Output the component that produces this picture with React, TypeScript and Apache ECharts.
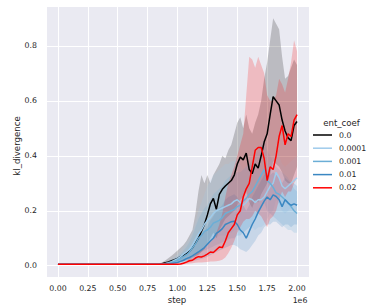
import React, { useEffect, useRef } from "react";
import * as echarts from "echarts";

// step values in millions (axis shows ×1e6)
const stepsM = [0, 0.25, 0.5, 0.75, 0.8, 0.825, 0.85, 0.875, 0.9, 0.925, 0.95, 0.975, 1.0, 1.025, 1.05, 1.075, 1.1, 1.125, 1.15, 1.175, 1.2, 1.225, 1.25, 1.275, 1.3, 1.325, 1.35, 1.375, 1.4, 1.425, 1.45, 1.475, 1.5, 1.525, 1.55, 1.575, 1.6, 1.625, 1.65, 1.675, 1.7, 1.725, 1.75, 1.775, 1.8, 1.825, 1.85, 1.875, 1.9, 1.925, 1.95, 1.975, 2.0];

const categories = ["0.0", "0.0001", "0.001", "0.01", "0.02"];
const colors = ["#000000", "#9fcbeb", "#6baed6", "#3a87c2", "#ff0000"];

// ent_coef 0.0
const mean0 = [0.005, 0.005, 0.005, 0.005, 0.005, 0.005, 0.006, 0.008, 0.011, 0.014, 0.018, 0.022, 0.027, 0.033, 0.038, 0.045, 0.052, 0.065, 0.082, 0.1, 0.125, 0.15, 0.185, 0.225, 0.245, 0.205, 0.26, 0.278, 0.29, 0.3, 0.31, 0.33, 0.37, 0.395, 0.385, 0.41, 0.35, 0.335, 0.37, 0.355, 0.4, 0.45, 0.48, 0.55, 0.615, 0.6, 0.585, 0.53, 0.49, 0.465, 0.455, 0.51, 0.525];
const hi0 = [0.006, 0.006, 0.006, 0.006, 0.006, 0.006, 0.009, 0.013, 0.02, 0.028, 0.036, 0.045, 0.055, 0.065, 0.075, 0.09, 0.11, 0.13, 0.19, 0.27, 0.33, 0.3, 0.33, 0.3, 0.33, 0.35, 0.37, 0.4, 0.39, 0.42, 0.44, 0.48, 0.52, 0.54, 0.5, 0.55, 0.5, 0.48, 0.52, 0.55, 0.6, 0.68, 0.74, 0.82, 0.9, 0.88, 0.86, 0.76, 0.68, 0.69, 0.72, 0.75, 0.73];
const lo0 = [0.004, 0.004, 0.004, 0.004, 0.004, 0.004, 0.004, 0.005, 0.006, 0.007, 0.008, 0.01, 0.012, 0.014, 0.016, 0.02, 0.024, 0.03, 0.035, 0.04, 0.05, 0.06, 0.08, 0.1, 0.12, 0.1, 0.13, 0.15, 0.17, 0.18, 0.19, 0.2, 0.22, 0.24, 0.25, 0.27, 0.23, 0.21, 0.24, 0.23, 0.26, 0.28, 0.3, 0.33, 0.38, 0.37, 0.36, 0.34, 0.31, 0.3, 0.3, 0.33, 0.36];

// ent_coef 0.0001
const mean1 = [0.005, 0.005, 0.005, 0.005, 0.005, 0.005, 0.005, 0.005, 0.008, 0.011, 0.015, 0.02, 0.026, 0.033, 0.042, 0.05, 0.06, 0.075, 0.095, 0.115, 0.13, 0.15, 0.165, 0.175, 0.19, 0.2, 0.205, 0.21, 0.215, 0.22, 0.225, 0.235, 0.24, 0.23, 0.22, 0.23, 0.245, 0.24, 0.23, 0.24, 0.24, 0.25, 0.27, 0.29, 0.3, 0.34, 0.32, 0.29, 0.28, 0.29, 0.3, 0.31, 0.32];
const hi1 = [0.006, 0.006, 0.006, 0.006, 0.006, 0.006, 0.006, 0.006, 0.012, 0.018, 0.025, 0.033, 0.042, 0.055, 0.07, 0.085, 0.1, 0.125, 0.16, 0.2, 0.23, 0.26, 0.29, 0.31, 0.33, 0.34, 0.35, 0.36, 0.37, 0.37, 0.38, 0.38, 0.39, 0.37, 0.35, 0.36, 0.37, 0.36, 0.34, 0.35, 0.34, 0.35, 0.37, 0.38, 0.39, 0.42, 0.4, 0.37, 0.36, 0.37, 0.38, 0.39, 0.4];
const lo1 = [0.004, 0.004, 0.004, 0.004, 0.004, 0.004, 0.004, 0.004, 0.005, 0.006, 0.008, 0.01, 0.012, 0.015, 0.018, 0.022, 0.027, 0.033, 0.04, 0.05, 0.06, 0.07, 0.08, 0.09, 0.1, 0.1, 0.11, 0.11, 0.11, 0.12, 0.12, 0.13, 0.13, 0.13, 0.12, 0.13, 0.14, 0.14, 0.13, 0.14, 0.14, 0.15, 0.17, 0.19, 0.2, 0.24, 0.22, 0.2, 0.19, 0.2, 0.21, 0.22, 0.23];

// ent_coef 0.001
const mean2 = [0.005, 0.005, 0.005, 0.005, 0.005, 0.005, 0.005, 0.005, 0.007, 0.009, 0.012, 0.016, 0.02, 0.026, 0.033, 0.04, 0.05, 0.065, 0.08, 0.1, 0.11, 0.125, 0.13, 0.14, 0.155, 0.16, 0.165, 0.175, 0.19, 0.195, 0.2, 0.205, 0.215, 0.22, 0.235, 0.245, 0.26, 0.27, 0.29, 0.31, 0.33, 0.35, 0.31, 0.3, 0.285, 0.265, 0.26, 0.25, 0.24, 0.23, 0.215, 0.2, 0.19];
const hi2 = [0.006, 0.006, 0.006, 0.006, 0.006, 0.006, 0.006, 0.006, 0.01, 0.014, 0.019, 0.026, 0.033, 0.043, 0.055, 0.068, 0.085, 0.11, 0.14, 0.17, 0.19, 0.21, 0.22, 0.24, 0.26, 0.27, 0.28, 0.29, 0.31, 0.32, 0.33, 0.33, 0.34, 0.34, 0.35, 0.36, 0.37, 0.38, 0.4, 0.42, 0.44, 0.46, 0.42, 0.4, 0.38, 0.36, 0.35, 0.34, 0.33, 0.32, 0.3, 0.28, 0.27];
const lo2 = [0.004, 0.004, 0.004, 0.004, 0.004, 0.004, 0.004, 0.004, 0.005, 0.006, 0.007, 0.009, 0.011, 0.013, 0.016, 0.019, 0.022, 0.028, 0.035, 0.045, 0.05, 0.055, 0.06, 0.065, 0.07, 0.075, 0.08, 0.085, 0.09, 0.095, 0.1, 0.1, 0.11, 0.11, 0.12, 0.13, 0.14, 0.15, 0.17, 0.19, 0.21, 0.23, 0.2, 0.19, 0.18, 0.17, 0.16, 0.15, 0.14, 0.13, 0.13, 0.12, 0.12];

// ent_coef 0.01
const mean3 = [0.005, 0.005, 0.005, 0.005, 0.005, 0.005, 0.005, 0.005, 0.006, 0.007, 0.008, 0.01, 0.012, 0.016, 0.02, 0.026, 0.03, 0.036, 0.043, 0.05, 0.058, 0.066, 0.078, 0.09, 0.1, 0.118, 0.125, 0.135, 0.15, 0.155, 0.16, 0.162, 0.15, 0.13, 0.12, 0.1, 0.125, 0.15, 0.17, 0.195, 0.215, 0.235, 0.25, 0.24, 0.258, 0.252, 0.24, 0.215, 0.24, 0.228, 0.22, 0.225, 0.22];
const hi3 = [0.006, 0.006, 0.006, 0.006, 0.006, 0.006, 0.006, 0.006, 0.008, 0.01, 0.012, 0.015, 0.02, 0.027, 0.035, 0.045, 0.055, 0.065, 0.08, 0.095, 0.11, 0.125, 0.145, 0.165, 0.18, 0.2, 0.21, 0.22, 0.24, 0.25, 0.255, 0.26, 0.25, 0.23, 0.22, 0.2, 0.22, 0.25, 0.27, 0.29, 0.31, 0.33, 0.34, 0.33, 0.34, 0.33, 0.32, 0.3, 0.32, 0.31, 0.3, 0.3, 0.29];
const lo3 = [0.004, 0.004, 0.004, 0.004, 0.004, 0.004, 0.004, 0.004, 0.004, 0.005, 0.005, 0.006, 0.007, 0.008, 0.01, 0.012, 0.014, 0.016, 0.019, 0.022, 0.025, 0.028, 0.033, 0.038, 0.045, 0.05, 0.055, 0.06, 0.065, 0.07, 0.075, 0.075, 0.07, 0.06, 0.055, 0.05, 0.06, 0.075, 0.09, 0.11, 0.12, 0.14, 0.15, 0.15, 0.16, 0.16, 0.15, 0.14, 0.15, 0.15, 0.14, 0.15, 0.15];

// ent_coef 0.02
const mean4 = [0.005, 0.005, 0.005, 0.005, 0.005, 0.005, 0.005, 0.005, 0.005, 0.005, 0.005, 0.005, 0.005, 0.006, 0.009, 0.013, 0.018, 0.02, 0.028, 0.033, 0.032, 0.036, 0.042, 0.05, 0.048, 0.058, 0.068, 0.066, 0.09, 0.12, 0.135, 0.15, 0.185, 0.2, 0.25, 0.28, 0.3, 0.36, 0.42, 0.43, 0.43, 0.39, 0.31, 0.36, 0.35, 0.4, 0.47, 0.51, 0.44, 0.48, 0.47, 0.53, 0.55];
const hi4 = [0.006, 0.006, 0.006, 0.006, 0.006, 0.006, 0.006, 0.006, 0.006, 0.006, 0.006, 0.006, 0.007, 0.009, 0.013, 0.018, 0.025, 0.03, 0.04, 0.05, 0.055, 0.065, 0.075, 0.09, 0.1, 0.12, 0.15, 0.19, 0.25, 0.3, 0.33, 0.36, 0.4, 0.44, 0.48, 0.62, 0.76, 0.75, 0.72, 0.76, 0.73, 0.7, 0.62, 0.6, 0.6, 0.62, 0.68, 0.66, 0.63, 0.68, 0.74, 0.82, 0.78];
const lo4 = [0.004, 0.004, 0.004, 0.004, 0.004, 0.004, 0.004, 0.004, 0.004, 0.004, 0.004, 0.004, 0.004, 0.004, 0.005, 0.006, 0.008, 0.009, 0.011, 0.012, 0.012, 0.013, 0.014, 0.015, 0.015, 0.016, 0.018, 0.022, 0.03, 0.045, 0.065, 0.09, 0.12, 0.14, 0.16, 0.17, 0.17, 0.18, 0.2, 0.19, 0.18, 0.16, 0.14, 0.17, 0.18, 0.2, 0.24, 0.27, 0.25, 0.27, 0.27, 0.3, 0.32];

const means = [mean0, mean1, mean2, mean3, mean4];
const his = [hi0, hi1, hi2, hi3, hi4];
const los = [lo0, lo1, lo2, lo3, lo4];

const xTicksM = [0, 0.25, 0.5, 0.75, 1.0, 1.25, 1.5, 1.75, 2.0];

const FONT = "DejaVu Sans";
const TXT = "#262626";

function rgba(hex: string, a: number) {
  const n = parseInt(hex.slice(1), 16);
  return `rgba(${(n >> 16) & 255},${(n >> 8) & 255},${n & 255},${a})`;
}

export default function App() {
  const ref = useRef<HTMLDivElement>(null);
  useEffect(() => {
    if (!ref.current) return;
    const chart = echarts.init(ref.current, undefined, { renderer: "svg" });
    const series: any[] = [];
    categories.forEach((name, i) => {
      const lo = los[i];
      const hi = his[i];
      series.push({
        type: "custom",
        name: name + " band",
        silent: true,
        data: stepsM.map((s, k) => [s * 1e6, lo[k], hi[k]]),
        encode: { x: 0, y: [1, 2] },
        renderItem: (params: any, api: any) => {
          if (params.dataIndex !== 0) return null;
          const pts: number[][] = [];
          for (let k = 0; k < stepsM.length; k++) pts.push(api.coord([stepsM[k] * 1e6, hi[k]]));
          for (let k = stepsM.length - 1; k >= 0; k--) pts.push(api.coord([stepsM[k] * 1e6, lo[k]]));
          return {
            type: "polygon",
            shape: { points: pts },
            style: { fill: rgba(colors[i], 0.2), stroke: "none" },
          };
        },
      });
      series.push({
        type: "line",
        name,
        silent: true,
        showSymbol: false,
        symbol: "none",
        data: stepsM.map((s, k) => [s * 1e6, means[i][k]]),
        lineStyle: { color: colors[i], width: 1.5 },
        itemStyle: { color: colors[i] },
      });
    });

    const graphics: any[] = [
      { type: "text", x: 177, y: 300, style: { text: "step", font: `8.6px '${FONT}'`, fill: TXT, textAlign: "center", textVerticalAlign: "middle" } },
      { type: "text", x: 300, y: 300, style: { text: "1e6", font: `7.8px '${FONT}'`, fill: TXT, textAlign: "center", textVerticalAlign: "middle" } },
      { type: "text", x: 17, y: 146, rotation: Math.PI / 2, style: { text: "kl_divergence", font: `8.6px '${FONT}'`, fill: TXT, textAlign: "center", textVerticalAlign: "middle" } },
      { type: "text", x: 341.5, y: 123, style: { text: "ent_coef", font: `8.6px '${FONT}'`, fill: TXT, textAlign: "center", textVerticalAlign: "middle" } },
    ];
    categories.forEach((name, i) => {
      const y = 135 + i * 13.2;
      graphics.push({ type: "line", shape: { x1: 313, y1: y, x2: 332, y2: y }, style: { stroke: colors[i], lineWidth: 1.5 } });
      graphics.push({ type: "text", x: 339, y, style: { text: name, font: `7.8px '${FONT}'`, fill: TXT, textAlign: "left", textVerticalAlign: "middle" } });
    });

    chart.setOption({
      animation: false,
      backgroundColor: "#ffffff",
      grid: { left: 46, right: 60, top: 6, bottom: 31, show: true, backgroundColor: "#eaeaf2", borderWidth: 0 },
      xAxis: {
        type: "value",
        min: -100000,
        max: 2100000,
        minInterval: 250000,
        maxInterval: 250000,
        axisLine: { show: false },
        axisTick: { show: false },
        splitLine: { show: true, lineStyle: { color: "#ffffff", width: 1 } },
        axisLabel: {
          showMinLabel: false,
          showMaxLabel: false,
          margin: 7,
          color: TXT,
          fontFamily: FONT,
          fontSize: 7.8,
          formatter: (v: number) => {
            const m = v / 1e6;
            return xTicksM.some((t) => Math.abs(t - m) < 1e-9) ? m.toFixed(2) : "";
          },
        },
      },
      yAxis: {
        type: "value",
        min: -0.041,
        max: 0.945,
        minInterval: 0.2,
        maxInterval: 0.2,
        axisLine: { show: false },
        axisTick: { show: false },
        splitLine: { show: true, lineStyle: { color: "#ffffff", width: 1 } },
        axisLabel: {
          showMinLabel: false,
          showMaxLabel: false,
          margin: 9,
          color: TXT,
          fontFamily: FONT,
          fontSize: 7.8,
          formatter: (v: number) => (Math.abs(v * 5 - Math.round(v * 5)) < 1e-6 ? v.toFixed(1) : ""),
        },
      },
      series,
      graphic: graphics,
    });
    return () => chart.dispose();
  }, []);
  return <div ref={ref} style={{ position: "fixed", left: 0, top: 0, width: 369, height: 308 }} />;
}
